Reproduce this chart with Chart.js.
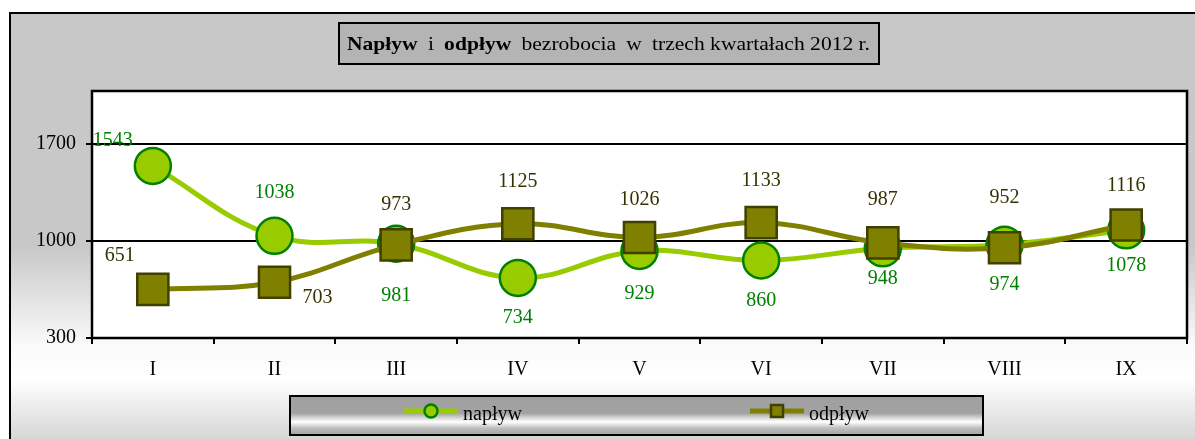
<!DOCTYPE html>
<html>
<head>
<meta charset="utf-8">
<script src="https://cdn.jsdelivr.net/npm/chart.js@4.4.1/dist/chart.umd.min.js"></script>
<style>
html,body{margin:0;padding:0;background:#fff;}
#wrap{position:relative;width:1195px;height:439px;}
</style>
</head>
<body>
<div id="wrap"><canvas id="c" width="1195" height="439"></canvas></div>
<script>
// ---- data ----
const categories = ['I','II','III','IV','V','VI','VII','VIII','IX'];
const naplyw = [1543, 1038, 981, 734, 929, 860, 948, 974, 1078];
const odplyw = [651, 703, 973, 1125, 1026, 1133, 987, 952, 1116];
const yTickValues = [300, 1000, 1700];
const seriesNames = ['napływ', 'odpływ'];
const titleParts = [['Napływ', true], ['i', false], ['odpływ', true], ['bezrobocia', false], ['w', false], ['trzech kwartałach 2012 r.', false]];

// label offsets (layout only), in px relative to the point
const naplywLabelOffsets = [[-40,-25],[0,-43],[0,52],[0,40],[0,43],[0,40],[0,30],[0,40],[0,35]];
const odplywLabelOffsets = [[-33,-34],[43,16],[0,-40],[0,-42],[0,-38],[0,-42],[0,-43],[0,-50],[0,-39]];

const FONT = '"Liberation Serif", "Times New Roman", serif';

const backgroundPlugin = {
  id: 'bgFrame',
  beforeDraw(chart) {
    const ctx = chart.ctx;
    ctx.save();
    ctx.fillStyle = '#fff';
    ctx.fillRect(0, 0, chart.width, chart.height);
    const g = ctx.createLinearGradient(0, 12, 0, 439);
    g.addColorStop(0, '#c8c8c8');
    g.addColorStop(0.55, '#c8c8c8');
    g.addColorStop(0.78, '#fafafa');
    g.addColorStop(0.86, '#ffffff');
    g.addColorStop(1, '#d6d6d6');
    ctx.fillStyle = g;
    ctx.fillRect(10, 13, chart.width, chart.height);
    ctx.strokeStyle = '#000';
    ctx.lineWidth = 2;
    ctx.beginPath();
    ctx.moveTo(10, chart.height + 5);
    ctx.lineTo(10, 13);
    ctx.lineTo(chart.width + 5, 13);
    ctx.stroke();
    // plot area
    const a = chart.chartArea;
    ctx.fillStyle = '#fff';
    ctx.fillRect(a.left, a.top, a.right - a.left, a.bottom - a.top);
    // title box
    ctx.fillStyle = '#b4b4b4';
    ctx.fillRect(339, 23, 540, 41);
    ctx.strokeStyle = '#000';
    ctx.lineWidth = 2;
    ctx.strokeRect(339, 23, 540, 41);
    // title text (stretched horizontally to fit the box like the reference)
    ctx.fillStyle = '#000';
    ctx.textBaseline = 'alphabetic';
    const gap = 9;
    const widths = titleParts.map(p => {
      ctx.font = (p[1] ? 'bold ' : '') + '19px ' + FONT;
      return ctx.measureText(p[0]).width;
    });
    const total = widths.reduce((s, w) => s + w, 0) + gap * (titleParts.length - 1);
    const sx = 523 / total;
    ctx.save();
    ctx.translate(347, 50);
    ctx.scale(sx, 1);
    let x = 0;
    titleParts.forEach((p, i) => {
      ctx.font = (p[1] ? 'bold ' : '') + '19px ' + FONT;
      ctx.fillText(p[0], x, 0);
      x += widths[i] + gap;
    });
    ctx.restore();
    // legend box
    const lg = ctx.createLinearGradient(0, 396, 0, 434);
    lg.addColorStop(0, '#a0a0a0');
    lg.addColorStop(0.45, '#a2a2a2');
    lg.addColorStop(0.68, '#ffffff');
    lg.addColorStop(0.85, '#bdbdbd');
    lg.addColorStop(1, '#a8a8a8');
    ctx.fillStyle = lg;
    ctx.fillRect(290, 396, 693, 39);
    ctx.strokeRect(290, 396, 693, 39);
    ctx.restore();
  },
  beforeDatasetsDraw(chart) {
    const ctx = chart.ctx, a = chart.chartArea;
    ctx.save();
    ctx.strokeStyle = '#000';
    ctx.lineWidth = 2.5;
    ctx.strokeRect(a.left, a.top, a.right - a.left, a.bottom - a.top);
    ctx.restore();
  },
  afterDraw(chart) {
    const ctx = chart.ctx;
    ctx.save();
    // data labels
    const sets = [[0, naplywLabelOffsets, '#008000'], [1, odplywLabelOffsets, '#333300']];
    ctx.font = '20px ' + FONT;
    ctx.textAlign = 'center';
    ctx.textBaseline = 'middle';
    sets.forEach(([di, offs, col]) => {
      const meta = chart.getDatasetMeta(di);
      const data = chart.data.datasets[di].data;
      ctx.fillStyle = col;
      meta.data.forEach((pt, i) => {
        ctx.fillText(String(data[i]), pt.x + offs[i][0], pt.y + offs[i][1]);
      });
    });
    // legend items
    const items = [[0, 404], [1, 750]];
    const ly = 411;
    items.forEach(([di, x0]) => {
      const ds = chart.data.datasets[di];
      ctx.strokeStyle = ds.borderColor;
      ctx.lineWidth = 5;
      ctx.beginPath();
      ctx.moveTo(x0, ly);
      ctx.lineTo(x0 + 54, ly);
      ctx.stroke();
      ctx.fillStyle = ds.pointBackgroundColor;
      ctx.strokeStyle = ds.pointBorderColor;
      ctx.lineWidth = 2.5;
      ctx.beginPath();
      if (ds.pointStyle === 'rect') {
        ctx.rect(x0 + 21, ly - 6, 12, 12);
      } else {
        ctx.arc(x0 + 27, ly, 6.5, 0, Math.PI * 2);
      }
      ctx.fill();
      ctx.stroke();
      ctx.fillStyle = '#000';
      ctx.font = '20px ' + FONT;
      ctx.textAlign = 'left';
      ctx.textBaseline = 'alphabetic';
      ctx.fillText(ds.label, x0 + 59, 420);
    });
    ctx.restore();
  }
};

new Chart(document.getElementById('c'), {
  type: 'line',
  data: {
    labels: categories,
    datasets: [
      {
        label: seriesNames[0],
        data: naplyw,
        borderColor: '#99cc00',
        borderWidth: 5,
        pointStyle: 'circle',
        pointRadius: 18,
        pointHoverRadius: 18,
        pointBackgroundColor: '#99cc00',
        pointBorderColor: '#008000',
        pointBorderWidth: 2.5,
        tension: 0.4,
        order: 1
      },
      {
        label: seriesNames[1],
        data: odplyw,
        borderColor: '#808000',
        borderWidth: 5,
        pointStyle: 'rect',
        pointRadius: 22,
        pointHoverRadius: 22,
        pointBackgroundColor: '#808000',
        pointBorderColor: '#404000',
        pointBorderWidth: 2.5,
        tension: 0.4,
        order: 0
      }
    ]
  },
  options: {
    responsive: false,
    animation: false,
    events: [],
    layout: { autoPadding: false, padding: { left: 0, top: 91, right: 8, bottom: 0 } },
    plugins: { legend: { display: false }, title: { display: false }, tooltip: { enabled: false } },
    scales: {
      x: {
        offset: true,
        grid: { offset: true, drawOnChartArea: false, drawTicks: true, tickLength: 6, color: '#000', lineWidth: 2 },
        border: { display: false },
        ticks: { color: '#000', font: { family: FONT, size: 20 }, padding: 14, maxRotation: 0 },
        afterFit(s) { s.height = 101; s.paddingLeft = 0; s.paddingRight = 0; }
      },
      y: {
        min: 300,
        max: 2084,
        afterBuildTicks(s) { s.ticks = yTickValues.map(v => ({ value: v })); },
        grid: { color: '#000', lineWidth: 2, tickLength: 6, drawTicks: true },
        border: { display: false },
        ticks: { color: '#000', font: { family: FONT, size: 20 }, padding: 10, callback: v => String(v) },
        afterFit(s) { s.width = 92; s.paddingTop = 0; s.paddingBottom = 0; }
      }
    }
  },
  plugins: [backgroundPlugin]
});
</script>
</body>
</html>
